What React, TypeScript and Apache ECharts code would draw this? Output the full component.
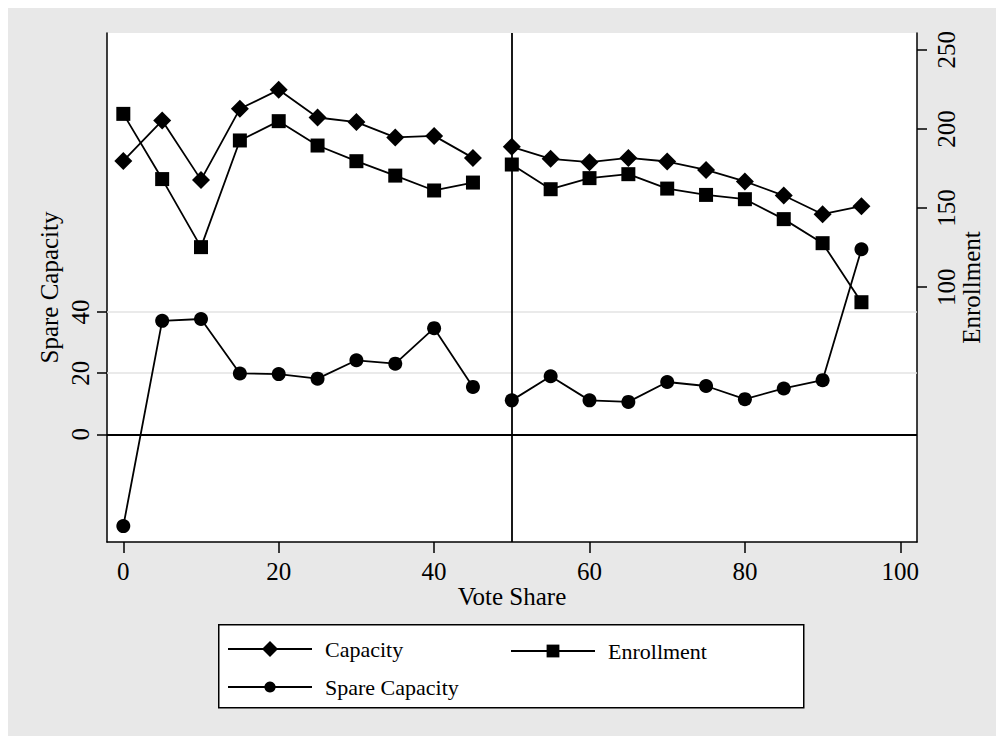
import React, { useEffect, useRef } from "react";
import * as echarts from "echarts";

const voteShare = [0, 5, 10, 15, 20, 25, 30, 35, 40, 45, 50, 55, 60, 65, 70, 75, 80, 85, 90, 95];
const capacity = [179.8, 205.3, 167.8, 212.7, 224.7, 207.2, 204.3, 194.6, 195.6, 181.7, 188.7, 181.1, 179.0, 181.7, 179.4, 174.1, 166.8, 157.9, 146.1, 151.2];
const enrollment = [209.5, 168.3, 125.3, 192.7, 204.9, 189.5, 179.6, 170.5, 161.1, 166.1, 177.5, 161.9, 168.9, 171.4, 162.3, 158.3, 155.6, 143.0, 127.8, 90.5];
const spareCapacity = [-30.0, 37.1, 37.7, 19.9, 19.7, 18.2, 24.2, 23.1, 34.7, 15.5, 11.1, 19.0, 11.1, 10.6, 17.1, 15.8, 11.5, 15.0, 17.7, 60.5];

const xTicks = [0, 20, 40, 60, 80, 100];
const leftTicks = [0, 20, 40];
const rightTicks = [100, 150, 200, 250];
const gridValues = [20, 40];
const cutoff = 50;

const FONT = '"Liberation Serif", "Times New Roman", serif';

function segment(values: number[], side: "left" | "right") {
  return voteShare
    .map((x, i) => [x, values[i]])
    .filter(([x]) => (side === "left" ? x < cutoff : x >= cutoff));
}

function makeSeries(name: string, values: number[], yAxisIndex: number, symbol: string, symbolSize: number, side: "left" | "right", extra: any = {}) {
  return {
    type: "line",
    name,
    yAxisIndex,
    data: segment(values, side),
    symbol,
    symbolSize,
    showSymbol: true,
    lineStyle: { color: "#000", width: 1.8 },
    itemStyle: { color: "#000" },
    z: 3,
    ...extra,
  };
}

export default function App() {
  const ref = useRef<HTMLDivElement>(null);

  useEffect(() => {
    document.documentElement.style.overflow = "hidden";
    const chart = echarts.init(ref.current!, null, { renderer: "svg" });

    const axisLineStyle = { color: "#000", width: 1.5 };
    const labelStyle = { fontSize: 25, color: "#000", fontFamily: FONT };
    const legendText = { fontSize: 22, color: "#000", fontFamily: FONT, padding: [0, 0, 0, 8] };

    const markLines = {
      silent: true,
      symbol: "none",
      z: 1,
      label: { show: false },
      data: [
        ...gridValues.map((v) => ({ yAxis: v, lineStyle: { color: "#e3e3e3", width: 1.5, type: "solid" } })),
        { yAxis: 0, lineStyle: { color: "#000", width: 1.8, type: "solid" } },
        { xAxis: cutoff, lineStyle: { color: "#000", width: 1.8, type: "solid" } },
      ],
    };

    const option: any = {
      animation: false,
      backgroundColor: "#e8e8e8",
      textStyle: { fontFamily: FONT },
      grid: {
        left: 99,
        top: 25,
        right: 87,
        bottom: 194,
        show: true,
        backgroundColor: "#fff",
        borderWidth: 0,
        outerBoundsMode: "none",
        containLabel: false,
      },
      xAxis: {
        type: "value",
        min: -2.1,
        max: 102.15,
        name: "Vote Share",
        nameLocation: "middle",
        nameGap: 42,
        nameMoveOverlap: false,
        nameTextStyle: labelStyle,
        axisLine: { show: true, onZero: false, lineStyle: axisLineStyle },
        axisTick: { show: true, customValues: xTicks, length: 11, lineStyle: axisLineStyle },
        axisLabel: { customValues: xTicks, margin: 17, ...labelStyle },
        splitLine: { show: false },
      },
      yAxis: [
        {
          type: "value",
          position: "left",
          min: -35.2,
          max: 131.2,
          name: "Spare Capacity",
          nameLocation: "middle",
          nameRotate: 90,
          nameGap: 45,
          nameMoveOverlap: false,
          nameTextStyle: labelStyle,
          axisLine: { show: true, onZero: false, lineStyle: axisLineStyle },
          axisTick: { show: true, customValues: leftTicks, length: 10, lineStyle: axisLineStyle },
          axisLabel: { customValues: leftTicks, rotate: 90, margin: 14, ...labelStyle },
          splitLine: { show: false },
        },
        {
          type: "value",
          position: "right",
          min: -61,
          max: 260.6,
          name: "Enrollment",
          nameLocation: "middle",
          nameRotate: 90,
          nameGap: 42,
          nameMoveOverlap: false,
          nameTextStyle: labelStyle,
          axisLine: { show: true, onZero: false, lineStyle: axisLineStyle },
          axisTick: { show: true, customValues: rightTicks, length: 10, lineStyle: axisLineStyle },
          axisLabel: { customValues: rightTicks, rotate: 90, margin: 17, ...labelStyle },
          splitLine: { show: false },
        },
      ],
      legend: [
        {
          data: ["Capacity"],
          left: 219,
          top: 630,
          padding: 0,
          itemWidth: 84,
          itemHeight: 20,
          selectedMode: false,
          textStyle: legendText,
        },
        {
          data: ["Enrollment"],
          left: 502,
          top: 632,
          padding: 0,
          itemWidth: 84,
          itemHeight: 16,
          selectedMode: false,
          textStyle: legendText,
        },
        {
          data: ["Spare Capacity"],
          left: 219,
          top: 668,
          padding: 0,
          itemWidth: 84,
          itemHeight: 14,
          selectedMode: false,
          textStyle: legendText,
        },
      ],
      graphic: [
        {
          type: "rect",
          left: 210,
          top: 616,
          z: 0,
          shape: { width: 585, height: 83 },
          style: { fill: "#fff", stroke: "#000", lineWidth: 1.5 },
        },
      ],
      series: [
        makeSeries("Capacity", capacity, 1, "diamond", 18, "left"),
        makeSeries("Capacity", capacity, 1, "diamond", 18, "right"),
        makeSeries("Enrollment", enrollment, 1, "rect", 14, "left"),
        makeSeries("Enrollment", enrollment, 1, "rect", 14, "right"),
        makeSeries("Spare Capacity", spareCapacity, 0, "circle", 14, "left", { markLine: markLines }),
        makeSeries("Spare Capacity", spareCapacity, 0, "circle", 14, "right"),
      ],
    };

    chart.setOption(option);
    return () => chart.dispose();
  }, []);

  return <div ref={ref} style={{ width: 996, height: 728 }} />;
}
